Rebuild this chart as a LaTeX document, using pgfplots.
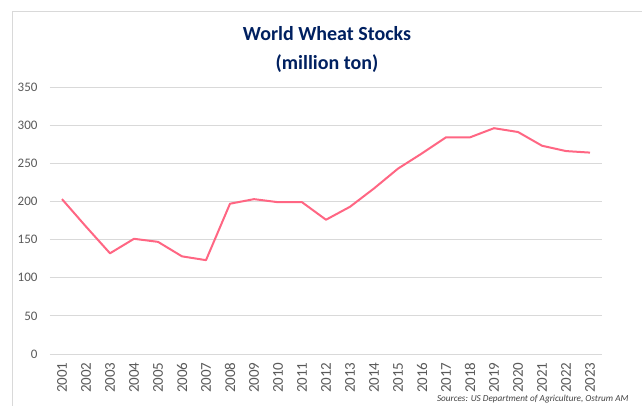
\documentclass[border=0pt]{standalone}
\usepackage{pgfplots}
\pgfplotsset{compat=1.18}
\usepackage{fontspec}
\setmainfont{Carlito}
\definecolor{navy}{HTML}{002060}
\definecolor{linec}{HTML}{FF6683}
\definecolor{gridc}{HTML}{D9D9D9}
\definecolor{tickc}{HTML}{595959}
\begin{document}
\begin{tikzpicture}[x=1pt,y=1pt]
\path[use as bounding box] (0,0) rectangle (642,406);
\draw[gridc, line width=0.8pt] (12,0) -- (12,395) -- (642,395);
\node[font=\fontsize{20}{29}\selectfont\bfseries, text=navy, align=center, anchor=base] at (327,365.3) {World Wheat Stocks};
\node[font=\fontsize{20}{29}\selectfont\bfseries, text=navy, align=center, anchor=base] at (327,336) {(million ton)};
\begin{axis}[
  at={(50pt,52pt)}, anchor=south west,
  scale only axis, width=552pt, height=267pt,
  xmin=-0.5, xmax=22.5, ymin=0, ymax=350,
  ytick={0,50,...,350},
  xtick={0,...,22},
  xticklabels={2001,2002,2003,2004,2005,2006,2007,2008,2009,2010,2011,2012,2013,2014,2015,2016,2017,2018,2019,2020,2021,2022,2023},
  x tick label style={rotate=90, anchor=east, font=\fontsize{15}{15}\selectfont, text=tickc, xshift=-5pt},
  y tick label style={font=\fontsize{13}{13}\selectfont, text=tickc, xshift=-9pt},
  /pgf/number format/assume math mode=true,
  ymajorgrids, grid style={gridc, line width=0.8pt},
  axis line style={draw=none},
  major tick length=0pt,
  clip=false,
]
\addplot[linec, line width=2pt, line join=round] coordinates {
(0,203) (1,167) (2,132) (3,151) (4,147) (5,128) (6,123) (7,197) (8,203) (9,199)
(10,199) (11,176) (12,193) (13,217) (14,243) (15,263) (16,284) (17,284) (18,296)
(19,291) (20,273) (21,266) (22,264)
};
\end{axis}
\node[font=\fontsize{9.2}{9.2}\selectfont\itshape, text=black!75, anchor=base east] at (632,4) {Sources: US Department of Agriculture, Ostrum AM};
\end{tikzpicture}
\end{document}
